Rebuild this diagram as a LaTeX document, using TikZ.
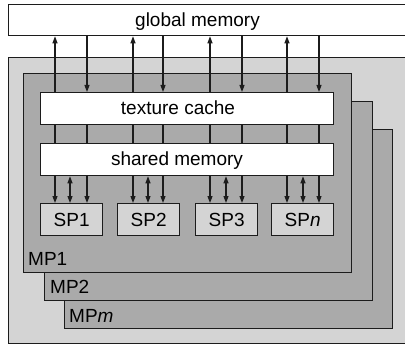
\documentclass[tikz,border=0pt]{standalone}
\usepackage{fontspec}
\setmainfont{Liberation Sans}
\usetikzlibrary{arrows.meta}
\definecolor{lightfill}{HTML}{D4D4D4}
\definecolor{mpfill}{HTML}{AAAAAA}
\definecolor{edge}{HTML}{1C1C1C}
\tikzset{
  every node/.style={font=\fontsize{19}{22}\selectfont},
  box/.style={draw=edge, line width=1.3pt, rectangle, inner sep=0pt, anchor=north west},
  membox/.style={box, fill=white},
  mpbox/.style={box, fill=mpfill, minimum width=328pt, minimum height=199pt},
  spbox/.style={box, fill=lightfill, minimum width=62pt, minimum height=32pt},
  txt/.style={anchor=base, inner sep=0pt},
  wire/.style={draw=edge, line width=1.1pt},
  arr/.style={wire, -{Triangle[length=7pt,width=5pt]}},
  darr/.style={wire, {Triangle[length=7pt,width=5pt]}-{Triangle[length=7pt,width=5pt]}},
}
\begin{document}
\begin{tikzpicture}[x=1pt,y=-1pt]
  \useasboundingbox (0,0) rectangle (405,345);
  \clip (0,0) rectangle (405,345);

  % device frame and global memory
  \node[box, fill=lightfill, minimum width=420pt, minimum height=286pt] (dev) at (8,57) {};
  \node[membox, minimum width=420pt, minimum height=31pt] (glob) at (8,4) {};
  \node[txt] (globtxt) at (197.5,27) {global memory};

  % stacked multiprocessors, back to front
  \node[mpbox] (mpm) at (64,129) {};
  \node[txt, anchor=base west] (mpmtxt) at (69,322) {MP\textit{m}};
  \node[mpbox] (mp2) at (44,101) {};
  \node[txt, anchor=base west] (mp2txt) at (50,293) {MP2};
  \node[mpbox] (mp1) at (23,73) {};
  \node[txt, anchor=base west] (mp1txt) at (28,265) {MP1};

  % caches inside MP1
  \node[membox, minimum width=293pt, minimum height=32pt] (tex) at (40,92) {};
  \node[txt] (textxt) at (178,114) {texture cache};
  \node[membox, minimum width=293pt, minimum height=32pt] (shm) at (40,143) {};
  \node[txt] (shmtxt) at (177,166) {shared memory};

  % scalar processors
  \node[spbox] (sp1) at (40,203) {};
  \node[spbox] (sp2) at (117,203) {};
  \node[spbox] (sp3) at (195,203) {};
  \node[spbox] (spn) at (271,203) {};
  \node[txt] (sp1txt) at (sp1.center |- 0,226) {SP1};
  \node[txt] (sp2txt) at (sp2.center |- 0,226) {SP2};
  \node[txt] (sp3txt) at (sp3.center |- 0,226) {SP3};
  \node[txt] (spntxt) at (spn.center |- 0,226) {SP\textit{n}};

  % global memory <-> texture cache, and texture cache -- shared memory
  \foreach \u/\d in {55/87, 133/163, 210/242, 287/319} {
    \draw[arr] (tex.north -| \u,0) -- (glob.south -| \u,0);
    \draw[arr] (glob.south -| \d,0) -- (tex.north -| \d,0);
    \draw[wire] (tex.south -| \u,0) -- (shm.north -| \u,0);
    \draw[wire] (tex.south -| \d,0) -- (shm.north -| \d,0);
  }

  % shared memory -> scalar processors
  \foreach \a/\m/\b/\s in {55/70/87/sp1, 133/148/163/sp2, 210/226/242/sp3, 287/303/319/spn} {
    \draw[arr] (shm.south -| \a,0) -- (\s.north -| \a,0);
    \draw[darr] (shm.south -| \m,0) -- (\s.north -| \m,0);
    \draw[arr] (shm.south -| \b,0) -- (\s.north -| \b,0);
  }
\end{tikzpicture}
\end{document}
